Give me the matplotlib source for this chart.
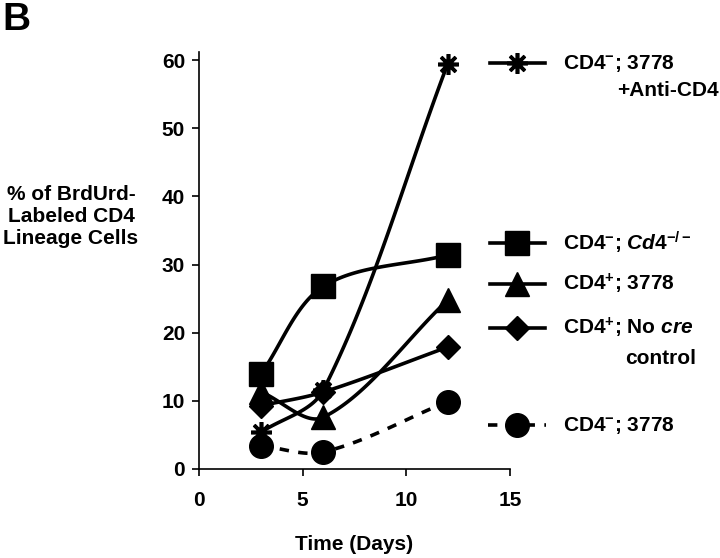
import numpy as np
import matplotlib.pyplot as plt
from matplotlib.lines import Line2D

plt.rcParams.update({
    "font.family": ["Liberation Sans", "DejaVu Sans"],
    "font.weight": "bold",
    "mathtext.fontset": "custom",
    "mathtext.rm": "Liberation Sans:bold",
    "mathtext.it": "Liberation Sans:italic:bold",
    "mathtext.bf": "Liberation Sans:bold",
    "mathtext.default": "rm",
})

# data
days = [3, 6, 12]
anti_cd4 = [5.4, 11.6, 59.5]      # CD4-; 3778 + Anti-CD4
cd4_ko = [14.0, 26.8, 31.4]       # CD4-; Cd4-/-
cd4pos_3778 = [11.3, 7.6, 24.8]   # CD4+; 3778
no_cre = [9.3, 11.3, 17.9]        # CD4+; No cre control
cd4neg_3778 = [3.4, 2.5, 9.9]     # CD4-; 3778

labels = [
    ("CD4$^{-}$; 3778", "+Anti-CD4"),
    ("CD4$^{-}$; $\\mathit{Cd4}^{-/-}$", None),
    ("CD4$^{+}$; 3778", None),
    ("CD4$^{+}$; No $\\mathit{cre}$", "control"),
    ("CD4$^{-}$; 3778", None),
]

XPX, YPX = 20.7, 6.82  # pixels per data unit, used for chord lengths


def smooth(x, y, n=50):
    # Excel-style smoothed line: bezier with chord-length scaled tangents
    p = np.column_stack([x, y]).astype(float)
    scale = np.array([XPX, YPX])
    m = len(p)

    def dist(a, b):
        return np.hypot(*((a - b) * scale))

    out = []
    for i in range(m - 1):
        p1, p2 = p[i], p[i + 1]
        p0 = p[i - 1] if i > 0 else p1
        p3 = p[i + 2] if i + 2 < m else p2
        d01, d12, d23 = dist(p0, p1), dist(p1, p2), dist(p2, p3)
        c1 = p1 + (p2 - p0) * d12 / (d01 + d12) / 3
        c2 = p2 - (p3 - p1) * d12 / (d12 + d23) / 3
        t = np.linspace(0, 1, n)[:, None]
        seg = ((1 - t) ** 3) * p1 + 3 * ((1 - t) ** 2) * t * c1 + 3 * (1 - t) * t ** 2 * c2 + t ** 3 * p2
        out.append(seg if i == 0 else seg[1:])
    s = np.vstack(out)
    return s[:, 0], s[:, 1]


series = [
    (anti_cd4, dict(marker=(8, 2, 0), ms=15, mew=2.6), "-"),
    (cd4_ko, dict(marker="s", ms=17), "-"),
    (cd4pos_3778, dict(marker="^", ms=17), "-"),
    (no_cre, dict(marker="D", ms=12), "-"),
    (cd4neg_3778, dict(marker="o", ms=17), (0, (2.6, 2.6))),
]

FS = 15

fig = plt.figure(figsize=(7.2, 5.58), dpi=100)
ax = fig.add_axes([199 / 720, 1 - 469 / 558, (510 - 199) / 720, (469 - 52) / 558])

for vals, mk, ls in series:
    sx, sy = smooth(days, vals)
    ax.plot(sx, sy, color="black", lw=2.6, ls=ls, zorder=2)
    ax.plot(days, vals, ls="none", color="black", mec="black", zorder=3, clip_on=False, **mk)

ax.set_xlim(0, 15)
ax.set_ylim(0, 61.2)
ax.set_xticks([0, 5, 10, 15])
ax.set_yticks([0, 10, 20, 30, 40, 50, 60])
ax.spines["top"].set_visible(False)
ax.spines["right"].set_visible(False)
ax.spines["left"].set_linewidth(1.2)
ax.spines["bottom"].set_linewidth(1.2)
ax.tick_params(direction="out", length=5, width=1.2, labelsize=FS, pad=5)
ax.tick_params(axis="x", pad=11)
ax.set_xlabel("Time (Days)", fontsize=FS, fontweight="bold", labelpad=18)

fig.text(71 / 720, 1 - 217 / 558, "% of BrdUrd-\nLabeled CD4\nLineage Cells",
         ha="center", va="center", fontsize=FS, fontweight="bold", linespacing=1.2)
fig.text(2 / 720, 1 - 20 / 558, "B", fontsize=28, fontweight="bold", va="center", ha="left")

# legend drawn by hand, entries are not evenly spaced
legend_y = [63, 243, 284, 328, 425]
second_x = [617, None, None, 625, None]
for (vals, mk, ls), (l1, l2), ly, sx in zip(series, labels, legend_y, second_x):
    yf = 1 - ly / 558
    if ls == "-":
        xs = [490 / 720, 517 / 720, 545 / 720]
    else:
        xs = [488 / 720, 517 / 720, 546 / 720]
    fig.add_artist(Line2D(xs, [yf] * 3, transform=fig.transFigure, color="black", lw=2.6,
                          ls=ls, markevery=[1], mfc="black", mec="black", **mk))
    fig.text(563 / 720, yf, l1, fontsize=FS, va="center", ha="left")
    if l2:
        fig.text(sx / 720, yf - (27 if l2 != "control" else 31) / 558, l2,
                 fontsize=FS, va="center", ha="left")

fig.savefig("out.png", dpi=100, facecolor="white")
